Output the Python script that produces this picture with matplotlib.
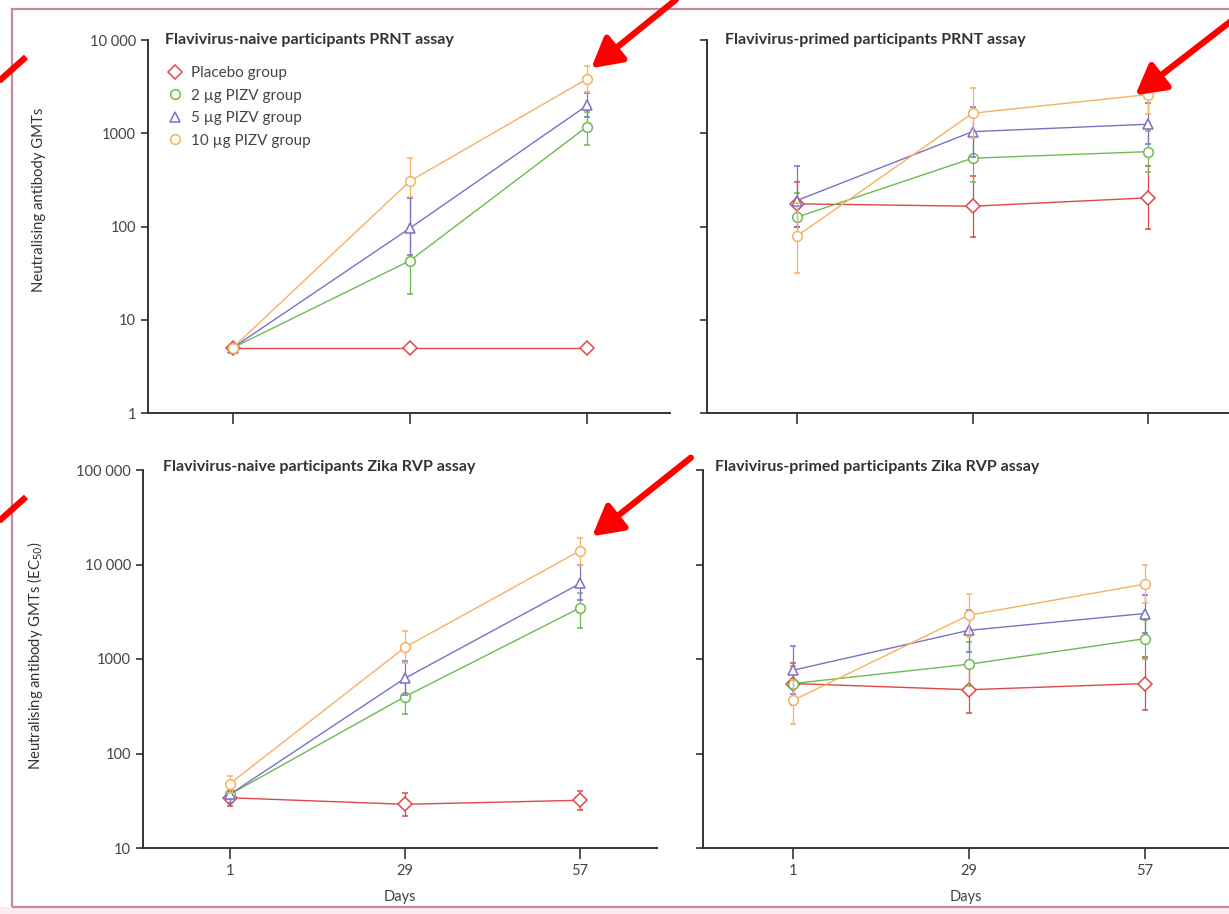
import matplotlib.pyplot as plt
import numpy as np
from matplotlib.patches import Rectangle, FancyArrowPatch
from matplotlib.lines import Line2D

plt.rcParams['font.family'] = ['Lato', 'DejaVu Sans']

days = [1, 29, 57]
groups = ['Placebo group', '2 µg PIZV group', '5 µg PIZV group', '10 µg PIZV group']
colors = ['#e04848', '#6cbb52', '#7b70c8', '#f6b160']
markers = ['D', 'o', '^', 'o']

# Flavivirus-naive, PRNT (GMT, lower CI, upper CI)
naive_prnt = [[5, 5, 5], [5, 43, 1180], [5, 96, 1990], [5, 307, 3830]]
naive_prnt_lo = [[5, 5, 5], [5, 19, 750], [5, 50, 1500], [5, 205, 2800]]
naive_prnt_hi = [[5, 5, 5], [5, 200, 1700], [5, 200, 2700], [5, 540, 5240]]

# Flavivirus-primed, PRNT
primed_prnt = [[175, 165, 203], [126, 540, 635], [190, 1040, 1250], [79, 1640, 2600]]
primed_prnt_lo = [[100, 77, 94], [75, 300, 380], [100, 560, 760], [32, 900, 1600]]
primed_prnt_hi = [[300, 350, 440], [230, 950, 1050], [440, 1900, 2100], [180, 3070, 3900]]

# Flavivirus-naive, Zika RVP
naive_rvp = [[34, 29, 32], [37, 400, 3480], [37, 626, 6300], [48, 1330, 14000]]
naive_rvp_lo = [[28, 22, 25], [30, 260, 2140], [30, 420, 4200], [38, 900, 10000]]
naive_rvp_hi = [[40, 38, 40], [45, 600, 5000], [45, 950, 10000], [58, 1980, 19000]]

# Flavivirus-primed, Zika RVP
primed_rvp = [[550, 473, 550], [550, 880, 1640], [760, 2010, 3030], [364, 2910, 6200]]
primed_rvp_lo = [[330, 266, 290], [350, 520, 1000], [430, 1200, 1900], [204, 1700, 3900]]
primed_rvp_hi = [[900, 850, 1050], [850, 1500, 2600], [1360, 3300, 4800], [600, 4900, 9800]]

prnt_ticks = [1, 10, 100, 1000, 10000]
prnt_labels = ['1', '10', '100', '1000', '10 000']
rvp_ticks = [10, 100, 1000, 10000, 100000]
rvp_labels = ['10', '100', '1000', '10 000', '100 000']

W, H = 1229, 914
fig = plt.figure(figsize=(W / 100, H / 100), dpi=100)


def box(left, top, right, bottom):
    return [left / W, 1 - bottom / H, (right - left) / W, (bottom - top) / H]


ax_tl = fig.add_axes(box(148, 40, 670, 413))
ax_tr = fig.add_axes(box(707, 40, 1229, 413))
ax_bl = fig.add_axes(box(143, 470, 657, 848))
ax_br = fig.add_axes(box(703, 470, 1229, 848))

panels = [
    (ax_tl, naive_prnt, naive_prnt_lo, naive_prnt_hi, 'Flavivirus-naive participants PRNT assay', (-12.4, 70.1), prnt_ticks, 0.033, 1.0),
    (ax_tr, primed_prnt, primed_prnt_lo, primed_prnt_hi, 'Flavivirus-primed participants PRNT assay', (-13.35, 69.9), prnt_ticks, 0.034, 1.0),
    (ax_bl, naive_rvp, naive_rvp_lo, naive_rvp_hi, 'Flavivirus-naive participants Zika RVP assay', (-12.9, 69.3), rvp_ticks, 0.039, 1.008),
    (ax_br, primed_rvp, primed_rvp_lo, primed_rvp_hi, 'Flavivirus-primed participants Zika RVP assay', (-13.3, 70.4), rvp_ticks, 0.023, 1.008),
]

for ax, vals, lo, hi, title, xlim, yt, tx, ty in panels:
    for i in range(4):
        v = np.array(vals[i], dtype=float)
        err = [v - np.array(lo[i]), np.array(hi[i]) - v]
        ax.errorbar(days, v, yerr=err, color=colors[i], lw=1.0, elinewidth=0.9,
                    capsize=2.5, capthick=0.9, marker=markers[i], ms=7,
                    mfc='white', mec=colors[i], mew=1.1, zorder=3 + i)
    ax.set_yscale('log')
    ax.set_xlim(*xlim)
    ax.set_ylim(yt[0], yt[-1])
    ax.set_xticks(days)
    ax.set_yticks(yt)
    ax.minorticks_off()
    for s in ['top', 'right']:
        ax.spines[s].set_visible(False)
    for s in ['left', 'bottom']:
        ax.spines[s].set_linewidth(1.4)
        ax.spines[s].set_color('#333333')
    ax.tick_params(axis='y', length=5, width=1.2, color='#333333', labelsize=10.5, labelcolor='#444444')
    ax.tick_params(axis='x', length=8, width=1.2, color='#333333', labelsize=10.5, labelcolor='#444444')
    ax.text(tx, ty, title, transform=ax.transAxes, ha='left', va='center',
            fontsize=11.5, fontweight='bold', color='#333333')

ax_tl.set_yticklabels(prnt_labels)
ax_bl.set_yticklabels(rvp_labels)
for ax in [ax_tr, ax_br]:
    ax.set_yticklabels([])
for ax in [ax_tl, ax_tr]:
    ax.set_xticklabels([])
for ax in [ax_bl, ax_br]:
    ax.set_xticklabels(['1', '29', '57'])
    ax.set_xlabel('Days', fontsize=10.5, color='#444444', labelpad=9)

ax_tl.set_ylabel('Neutralising antibody GMTs', fontsize=10.7, color='#333333')
ax_tl.yaxis.set_label_coords(-0.195, 0.571)
ax_bl.set_ylabel('Neutralising antibody GMTs (EC$_{50}$)', fontsize=10.7, color='#333333')
ax_bl.yaxis.set_label_coords(-0.19, 0.51)

handles = [Line2D([], [], ls='none', marker=markers[i], ms=7, mfc='white',
                  mec=colors[i], mew=1.1) for i in range(4)]
ax_tl.legend(handles, groups, loc='upper left', bbox_to_anchor=(0.01, 0.966), frameon=False,
             fontsize=11, handlelength=1.0, handletextpad=0.6, labelspacing=0.55,
             labelcolor='#444444')

# pink page frame
fig.patches.append(Rectangle((0, 0), W, 7, transform=None, facecolor='#fcecf1',
                             edgecolor='none', zorder=0))
fig.patches.append(Rectangle((12, 7), W + 40, H - 16, transform=None, facecolor='none',
                             edgecolor='#c4899a', lw=1.6, zorder=1))


def px(x, y):
    return (x, H - y)


# red arrows drawn over the figure
for tail, tip in [((678, -2), (589, 70)), ((1235, 18), (1133, 97)), ((693, 456), (590, 538))]:
    fig.patches.append(FancyArrowPatch(px(*tail), px(*tip), transform=None,
                                       arrowstyle='-|>,head_length=18,head_width=10',
                                       color='#ff0000', lw=4.5, zorder=10))
for a, b in [((-2, 82), (26, 57)), ((-2, 522), (26, 497))]:
    fig.add_artist(Line2D([a[0], b[0]], [H - a[1], H - b[1]], transform=None,
                          color='#ff0000', lw=4.5, solid_capstyle='butt'))

plt.savefig('out.png', dpi=100)
